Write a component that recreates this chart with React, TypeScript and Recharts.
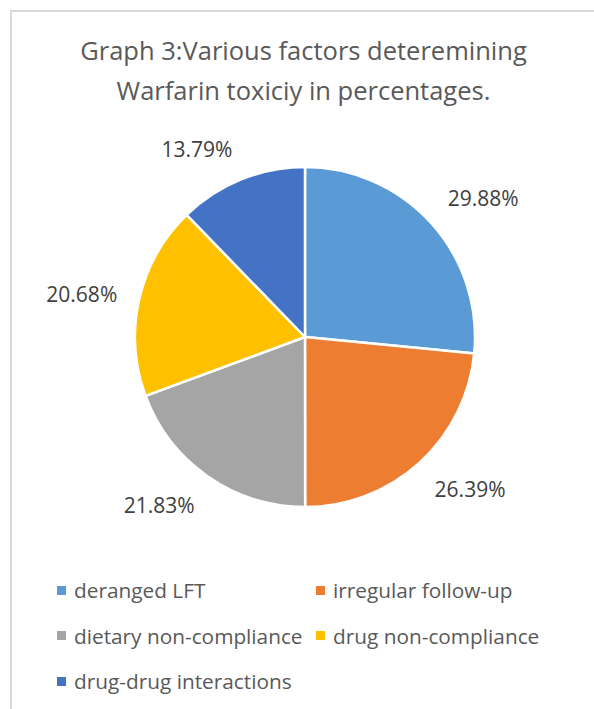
import React from "react";
import { PieChart, Pie, Cell, Legend } from "recharts";

const categories = [
  "deranged LFT",
  "irregular follow-up",
  "dietary non-compliance",
  "drug non-compliance",
  "drug-drug interactions",
];
const values = [29.88, 26.39, 21.83, 20.68, 13.79];
const colors = ["#5B9BD5", "#ED7D31", "#A5A5A5", "#FFC000", "#4472C4"];
const titleLines = ["Graph 3:Various factors deteremining", "Warfarin toxiciy in percentages."];

const data = categories.map((name, i) => ({ name, value: values[i] }));

const FONT = "'Open Sans', sans-serif";
const RAD = Math.PI / 180;

const renderLabel = (props: any) => {
  const { cx, cy, midAngle, outerRadius, value } = props;
  const dx = Math.cos(-midAngle * RAD);
  const dy = Math.sin(-midAngle * RAD);
  const r = outerRadius + 22;
  const ax = cx + r * dx;
  const ay = cy + r * dy;
  const w = 72;
  const h = 20;
  const x = ax + Math.sign(dx) * (w / 2);
  const y = Math.abs(dy) < 0.3 ? ay : ay + Math.sign(dy) * (h / 2);
  return (
    <text
      x={x}
      y={y}
      fill="#404040"
      textAnchor="middle"
      dominantBaseline="central"
      style={{ fontFamily: FONT, fontSize: 21 }}
    >
      {value.toFixed(2)}%
    </text>
  );
};

const renderLegend = () => (
  <div style={{ position: "relative", width: 594, height: 709 }}>
    {categories.map((name, i) => {
      const col = i % 2;
      const row = Math.floor(i / 2);
      const left = col === 0 ? 57 : 316;
      const center = 590 + row * 45.5;
      return (
        <div
          key={name}
          style={{
            position: "absolute",
            left,
            top: center - 14,
            height: 28,
            display: "flex",
            alignItems: "center",
            whiteSpace: "nowrap",
            fontFamily: FONT,
            fontSize: 20.8,
            color: "#595959",
            lineHeight: "28px",
          }}
        >
          <span
            style={{
              display: "inline-block",
              width: 9,
              height: 9,
              background: colors[i],
              marginRight: 8,
            }}
          />
          {name}
        </div>
      );
    })}
  </div>
);

export default function App() {
  return (
    <div
      style={{
        position: "absolute",
        left: 0,
        top: 0,
        width: 594,
        height: 709,
        overflow: "hidden",
        background: "#fff",
      }}
    >
      <div
        style={{
          position: "absolute",
          left: 10,
          top: 10,
          width: 640,
          height: 760,
          border: "2px solid #D9D9D9",
          boxSizing: "border-box",
        }}
      />
      <div
        style={{
          position: "absolute",
          left: 0,
          top: 30,
          width: 607,
          textAlign: "center",
          fontFamily: FONT,
          fontSize: 25.5,
          color: "#595959",
          lineHeight: "40px",
        }}
      >
        {titleLines.map((t) => (
          <div key={t}>{t}</div>
        ))}
      </div>
      <div style={{ position: "absolute", left: 0, top: 0 }}>
        <PieChart width={594} height={709} margin={{ top: 0, right: 0, bottom: 0, left: 0 }}>
          <Pie
            data={data}
            dataKey="value"
            nameKey="name"
            cx={305}
            cy={337}
            outerRadius={170}
            startAngle={90}
            endAngle={-270}
            stroke="#FFFFFF"
            strokeWidth={2.5}
            label={renderLabel}
            labelLine={false}
            isAnimationActive={false}
          >
            {data.map((d, i) => (
              <Cell key={d.name} fill={colors[i]} />
            ))}
          </Pie>
          <Legend
            content={renderLegend}
            wrapperStyle={{ position: "absolute", left: 0, top: 0, width: 594, height: 709 }}
          />
        </PieChart>
      </div>
    </div>
  );
}
